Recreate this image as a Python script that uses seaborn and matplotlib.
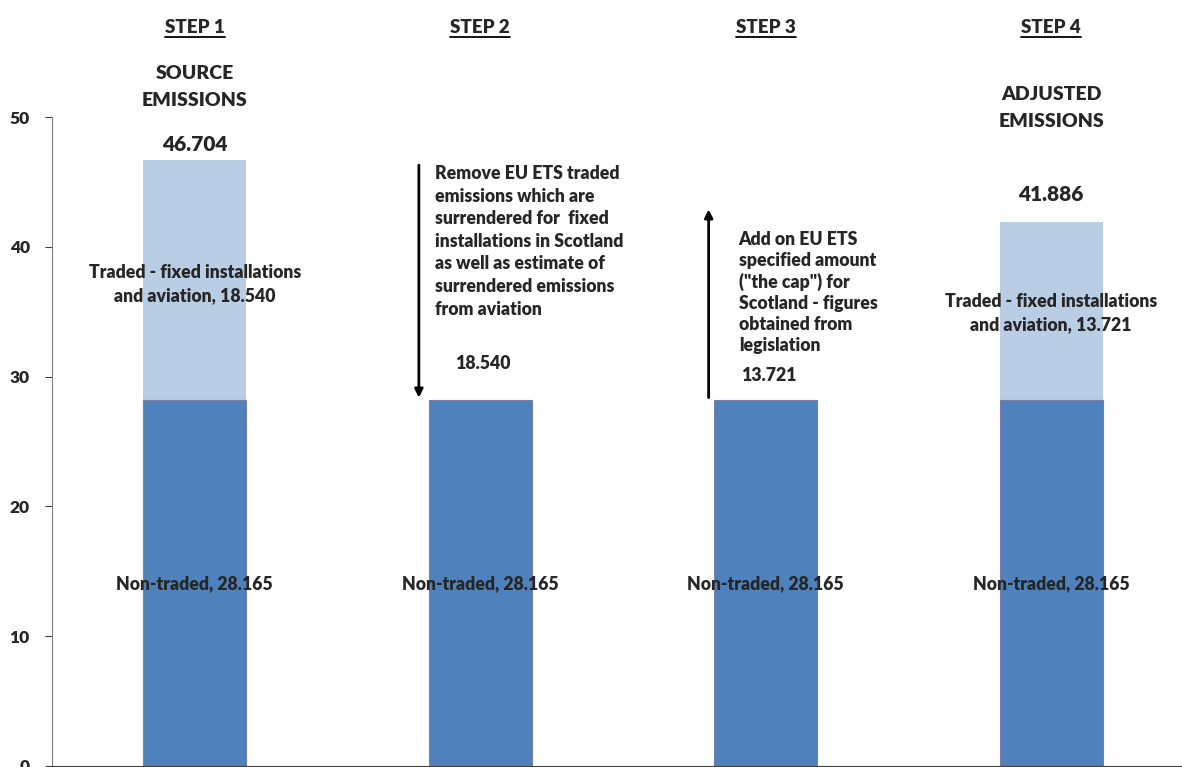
import matplotlib
matplotlib.use("Agg")
import matplotlib.pyplot as plt
from matplotlib.lines import Line2D
import seaborn as sns
import pandas as pd

# data
steps = ["STEP 1", "STEP 2", "STEP 3", "STEP 4"]
non_traded = [28.165, 28.165, 28.165, 28.165]
traded = [18.540, 0.0, 0.0, 13.721]
totals = [46.704, 28.165, 28.165, 41.886]
headers = ["SOURCE\nEMISSIONS", "", "", "ADJUSTED\nEMISSIONS"]
y_ticks = [0, 10, 20, 30, 40, 50]

DARK = "#4F81BD"
LIGHT = "#B9CDE5"
W = "heavy"

sns.set_style("white")
plt.rcParams["font.family"] = ["Lato", "DejaVu Sans"]
plt.rcParams["font.weight"] = W

df = pd.DataFrame({"step": steps, "non_traded": non_traded,
                   "total": [n + t for n, t in zip(non_traded, traded)]})

fig = plt.figure(figsize=(11.82, 7.67), dpi=100)
ax = fig.add_axes([52 / 1182, 1 / 767, 1142 / 1182, 649 / 767])

sns.barplot(data=df, x="step", y="total", color=LIGHT, width=0.36,
            saturation=1, linewidth=0, ax=ax)
sns.barplot(data=df, x="step", y="non_traded", color=DARK, width=0.36,
            saturation=1, edgecolor="#7A7FA8", linewidth=0.8, ax=ax)

ax.set_ylim(0, 50)
ax.set_xlim(-0.5, 3.5)
ax.set_yticks(y_ticks)
ax.set_yticklabels([str(v) for v in y_ticks], fontsize=12.5, fontweight=W)
ax.set_xticks([])
ax.set_xlabel("")
ax.set_ylabel("")
for side in ["top", "right"]:
    ax.spines[side].set_visible(False)
ax.spines["left"].set_color("#808080")
ax.spines["bottom"].set_color("#404040")
ax.tick_params(axis="y", direction="out", length=5, color="#404040", pad=11, left=True)

# step headers (underlined)
step_texts = []
for i, s in enumerate(steps):
    t = ax.text(i, 56.9, s, ha="center", va="center", fontsize=13.5,
                fontweight=W, clip_on=False)
    step_texts.append(t)
    if headers[i]:
        ax.text(i, 52.3 if i == 0 else 50.7, headers[i], ha="center", va="center",
                fontsize=14, fontweight=W, linespacing=1.7, clip_on=False)

# segment labels
for i in range(4):
    ax.text(i, non_traded[i] / 2, f"Non-traded, {non_traded[i]:.3f}",
            ha="center", va="center", fontsize=12.7, fontweight=W)
    if traded[i] > 0:
        ax.text(i, non_traded[i] + traded[i] / 2 + (-0.3 if i == 0 else -0.1),
                f"Traded - fixed installations\nand aviation, {traded[i]:.3f}",
                ha="center", va="center", fontsize=12.7, fontweight=W,
                linespacing=1.45)

ax.text(0, 47.85, f"{totals[0]:.3f}", ha="center", va="center", fontsize=15, fontweight=W)
ax.text(3, 44.0, f"{totals[3]:.3f}", ha="center", va="center", fontsize=15, fontweight=W)

# step 2 arrow and text
ax.annotate("", xy=(0.785, non_traded[1]), xytext=(0.785, totals[0] - 0.2),
            arrowprops=dict(arrowstyle="-|>", lw=2, color="black", mutation_scale=12))
ax.text(0.84, 46.3,
        "Remove EU ETS traded\nemissions which are\nsurrendered for  fixed\n"
        "installations in Scotland\nas well as estimate of\nsurrendered emissions\nfrom aviation",
        ha="left", va="top", fontsize=12.7, fontweight=W, linespacing=1.4)
ax.text(1.01, 31.0, f"{traded[0]:.3f}", ha="center", va="center", fontsize=12.7, fontweight=W)

# step 3 arrow and text
ax.annotate("", xy=(1.8, 43.1), xytext=(1.8, non_traded[2]),
            arrowprops=dict(arrowstyle="-|>", lw=2, color="black", mutation_scale=12))
ax.text(1.905, 41.2,
        "Add on EU ETS\nspecified amount\n(\"the cap\") for\nScotland - figures\n"
        "obtained from\nlegislation",
        ha="left", va="top", fontsize=12.7, fontweight=W, linespacing=1.27)
ax.text(2.01, 30.1, f"{traded[3]:.3f}", ha="center", va="center", fontsize=12.7, fontweight=W)

# underline the step headers
fig.canvas.draw()
renderer = fig.canvas.get_renderer()
for t in step_texts:
    bb = t.get_window_extent(renderer)
    y = bb.y0 - 1
    fig.add_artist(Line2D([bb.x0 / fig.bbox.width, bb.x1 / fig.bbox.width],
                          [y / fig.bbox.height, y / fig.bbox.height],
                          color="black", lw=1.3))

fig.savefig("out.png", dpi=100)
